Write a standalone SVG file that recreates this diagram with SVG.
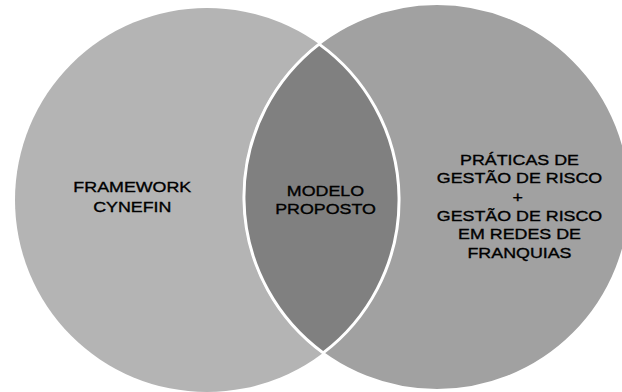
<svg xmlns="http://www.w3.org/2000/svg" width="622" height="392" viewBox="0 0 622 392">
<style>
.t{font-family:"Liberation Sans",Arial,sans-serif;font-size:15px;fill:#000;stroke:#000;stroke-width:0.35;text-anchor:middle}
</style>
<rect width="622" height="392" fill="#ffffff"/>
<g id="cynefin">
<circle cx="207" cy="200" r="192" fill="#b4b4b4"/>
<g transform="translate(132.3,0) scale(1.19,1)">
<text class="t" x="0" y="191.7">FRAMEWORK</text>
<text class="t" x="0" y="211.7">CYNEFIN</text>
</g>
</g>
<g id="praticas">
<circle cx="437" cy="197" r="193" fill="#a1a1a1" stroke="#ffffff" stroke-width="2"/>
<g transform="translate(519.5,0) scale(1.19,1)">
<text class="t" x="0" y="165">PRÁTICAS DE</text>
<text class="t" x="0" y="183.3">GESTÃO DE RISCO</text>
<text class="t" x="-1.5" y="202">+</text>
<text class="t" x="0" y="221">GESTÃO DE RISCO</text>
<text class="t" x="0" y="239.3">EM REDES DE</text>
<text class="t" x="0" y="257.7">FRANQUIAS</text>
</g>
</g>
<g id="modelo">
<path d="M319.15 44.12 A192 192 0 0 1 323.17 352.9 A193 193 0 0 1 319.15 44.12 Z" fill="#808080" stroke="#ffffff" stroke-width="3"/>
<g transform="translate(325.5,0) scale(1.19,1)">
<text class="t" x="0" y="195.7">MODELO</text>
<text class="t" x="0" y="214.3">PROPOSTO</text>
</g>
</g>
<g id="connectors"></g>
</svg>
